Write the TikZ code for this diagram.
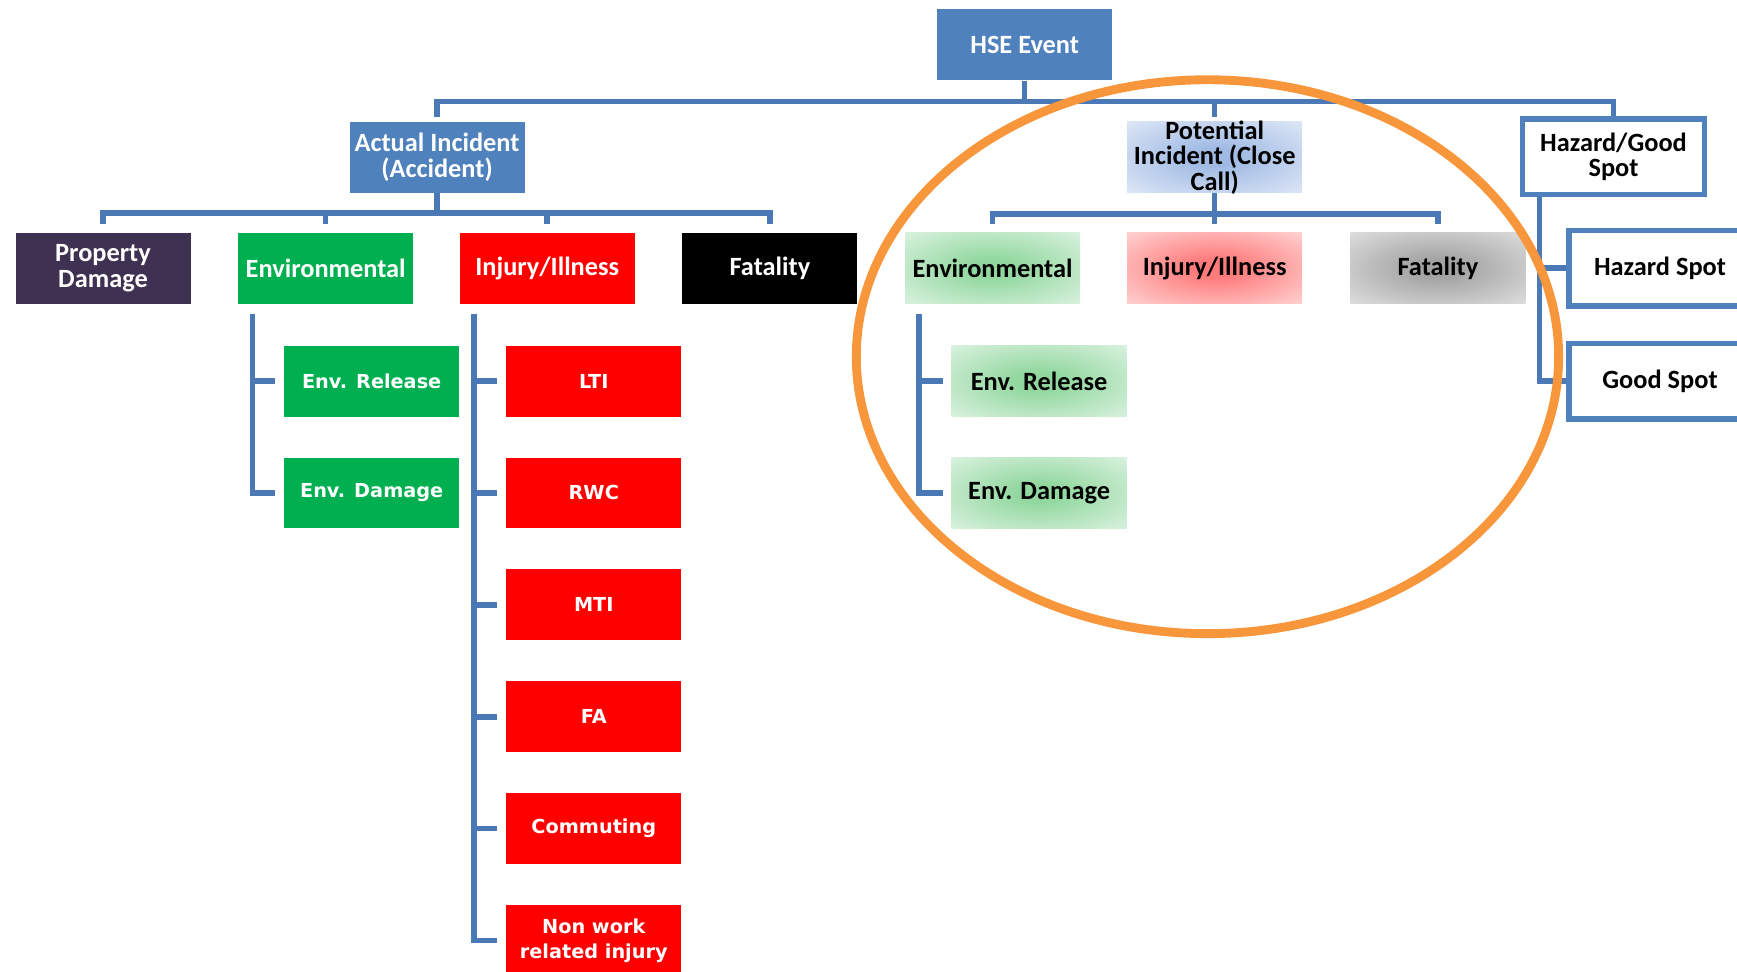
\documentclass[tikz,border=0pt]{standalone}
\usepackage{fontspec}
\setmainfont{Carlito}
\newfontfamily\leaffont{DejaVu Sans}

\definecolor{hseblue}{RGB}{79,129,189}
\definecolor{linkblue}{RGB}{74,121,182}
\definecolor{envgreen}{RGB}{0,176,80}
\definecolor{injred}{RGB}{255,0,0}
\definecolor{propurple}{RGB}{63,49,81}
\definecolor{ringorange}{RGB}{247,150,58}
\definecolor{potin}{RGB}{160,186,228}
\definecolor{potout}{RGB}{222,231,246}
\definecolor{greenin}{RGB}{145,215,158}
\definecolor{greenout}{RGB}{218,242,223}
\definecolor{redin}{RGB}{255,122,122}
\definecolor{redout}{RGB}{255,210,210}
\definecolor{grayin}{RGB}{163,163,163}
\definecolor{grayout}{RGB}{222,222,222}

% soft radial glow that keeps its centre colour a little longer
\makeatletter
\pgfdeclareradialshading[tikz@radial@inner,tikz@radial@outer]{softglow}{\pgfpointorigin}{%
  color(0bp)=(tikz@radial@inner); color(6bp)=(tikz@radial@inner);
  color(36bp)=(tikz@radial@outer); color(50bp)=(tikz@radial@outer)}
\makeatother

\begin{document}
\begin{tikzpicture}[x=1pt,y=-1pt,
  box/.style={rectangle, minimum width=158pt, minimum height=64pt,
    inner sep=1pt, align=center,
    font=\bfseries\fontsize{23.8}{23}\selectfont},
  solidbox/.style={box, fill=#1, text=white},
  leafbox/.style={solidbox=#1,
    font=\leaffont\bfseries\fontsize{17.4}{23}\selectfont},
  softbox/.style 2 args={box, inner color=#1, outer color=#2,
    shading=softglow, text=black},
  outlinebox/.style={box, draw=hseblue, line width=5pt, fill=white,
    text=black, minimum width=164pt, minimum height=68pt},
  conn/.style={draw=linkblue, line width=5pt},
  ring/.style={draw=ringorange, line width=8pt}
]
\useasboundingbox (0,0) rectangle (1568,877);
\clip (0,0) rectangle (1568,877);

% top level
\node[solidbox=hseblue] (hse) at (925,40.5) {HSE Event};
\node[solidbox=hseblue] (actual) at (394.5,142) {Actual Incident\\(Accident)};
\node[softbox={potin}{potout}] (potential) at (1096.5,142)
  {\parbox[c][56pt][c]{150pt}{\centering Potential\\Incident (Close\\Call)}};
\node[outlinebox] (hazard) at (1456.5,141.5) {Hazard/Good\\Spot};

% actual incident categories
\node[solidbox=propurple] (pd) at (93,242) {Property\\Damage};
\node[solidbox=envgreen] (env) at (294,242) {Environmental};
\node[solidbox=injred] (inj) at (494,242) {Injury/Illness};
\node[solidbox=black] (fat) at (695,242) {Fatality};

\node[leafbox=envgreen] (er) at (335.5,344) {Env. Release};
\node[leafbox=envgreen] (ed) at (335.5,445) {Env. Damage};

\node[leafbox=injred] (lti) at (536,344) {LTI};
\node[leafbox=injred] (rwc) at (536,445) {RWC};
\node[leafbox=injred] (mti) at (536,546) {MTI};
\node[leafbox=injred] (fa)  at (536,647) {FA};
\node[leafbox=injred] (com) at (536,748) {Commuting};
\node[leafbox=injred] (nwr) at (536,849) {Non work\\related injury};

% potential incident categories
\node[softbox={greenin}{greenout}] (penv) at (896,242) {Environmental};
\node[softbox={redin}{redout}] (pinj) at (1096.5,242) {Injury/Illness};
\node[softbox={grayin}{grayout}] (pfat) at (1298,242) {Fatality};

\node[softbox={greenin}{greenout}] (per) at (938,344) {Env. Release};
\node[softbox={greenin}{greenout}] (ped) at (938,445) {Env. Damage};

% hazard / good spot
\node[outlinebox] (hspot) at (1498.5,242) {Hazard Spot};
\node[outlinebox] (gspot) at (1498.5,344) {Good Spot};

% connectors: top level
\draw[conn] (hse.south) -- ++(0,19) coordinate (topbar);
\draw[conn, shorten >=4pt] (topbar) -| (actual.north);
\draw[conn, shorten >=4pt] (topbar) -| (potential.north);
\draw[conn] (topbar) -| (hazard.north);

% connectors: actual incident
\draw[conn] (actual.south) -- ++(0,18) coordinate (abar);
\foreach \c in {pd,env,inj,fat}
  \draw[conn, shorten >=8pt] (abar) -| (\c.north);
\foreach \c in {er,ed}
  \draw[conn, shorten <=9pt, shorten >=8pt] ([xshift=13pt]env.south west) |- (\c.west);
\foreach \c in {lti,rwc,mti,fa,com,nwr}
  \draw[conn, shorten <=9pt, shorten >=8pt] ([xshift=13pt]inj.south west) |- (\c.west);

% connectors: potential incident
\draw[conn] (potential.south) -- ++(0,19) coordinate (pbar);
\foreach \c in {penv,pinj,pfat}
  \draw[conn, shorten >=8pt] (pbar) -| (\c.north);
\foreach \c in {per,ped}
  \draw[conn, shorten <=9pt, shorten >=8pt] ([xshift=13pt]penv.south west) |- (\c.west);

% connectors: hazard / good spot
\foreach \c in {hspot,gspot}
  \draw[conn] ([xshift=17.5pt]hazard.south west) |- (\c.west);

% highlight ring round the potential incident branch
\draw[ring] (1090,322) ellipse [x radius=317, y radius=250];
\end{tikzpicture}
\end{document}
